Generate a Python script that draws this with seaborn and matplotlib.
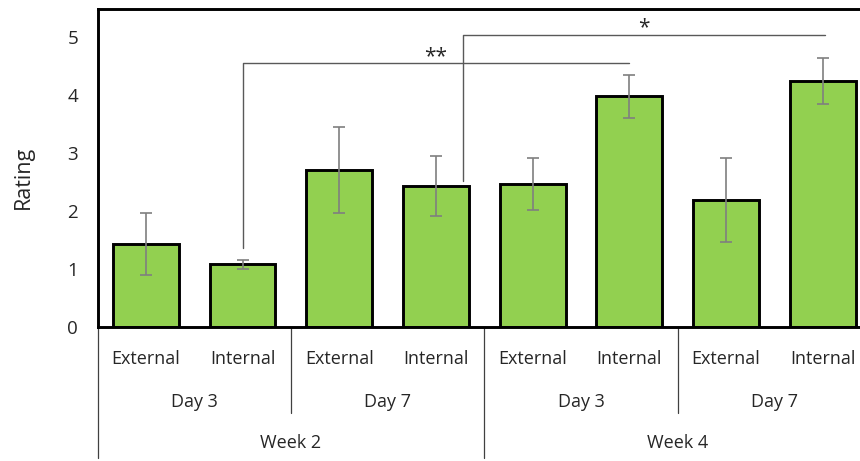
import matplotlib
matplotlib.use('Agg')
import matplotlib.pyplot as plt
import seaborn as sns
import pandas as pd

sites = ['External', 'Internal'] * 4
days = ['Day 3', 'Day 7']
weeks = ['Week 2', 'Week 4']
ratings = [1.43, 1.08, 2.71, 2.43, 2.47, 3.98, 2.19, 4.24]
errors = [0.53, 0.08, 0.74, 0.52, 0.45, 0.37, 0.72, 0.40]
# significance brackets: start bar, end bar, foot, height, label
brackets = [(1, 5, 1.36, 4.55, '**'), (3.28, 7.02, 2.52, 5.04, '*')]

sns.set_style('white')
plt.rcParams['font.family'] = ['Open Sans', 'DejaVu Sans']
text_color = '#262626'

keys = [f'{weeks[i // 4]} {days[(i // 2) % 2]} {sites[i]}' for i in range(len(ratings))]
df = pd.DataFrame({'key': keys, 'rating': ratings})

fig = plt.figure(figsize=(8.6, 4.61), dpi=100)
ax = fig.add_axes([0.1135, 0.2907, 0.8993, 0.6898])

sns.barplot(data=df, x='key', y='rating', color='#92D050', saturation=1,
            edgecolor='black', linewidth=2.1, width=0.68, ax=ax)
ax.errorbar(range(len(ratings)), ratings, yerr=errors, fmt='none',
            ecolor='#7f7f7f', elinewidth=1.2, capsize=4.5, capthick=1.2)

# significance brackets
for x0, x1, foot, h, label in brackets:
    ax.plot([x0, x0, x1], [foot, h, h], color='#595959', lw=1)
    ax.text((x0 + x1) / 2, h - 0.07, label, ha='center', va='bottom',
            fontsize=15, color=text_color)

ax.set_xlim(-0.5, 7.5)
ax.set_ylim(0, 5.48)
ax.set_yticks(range(6))
ax.set_xticks(range(len(sites)))
ax.set_xticklabels(sites)
ax.tick_params(axis='x', length=0, pad=16.5, labelsize=13, labelcolor=text_color)
ax.tick_params(axis='y', length=0, pad=14, labelsize=13.5, labelcolor=text_color)
ax.set_xlabel('')
ax.set_ylabel('')
ax.text(-0.0965, 0.47, 'Rating', transform=ax.transAxes, rotation=90,
        ha='center', va='center', fontsize=15.5, color=text_color)

for side in ['left', 'top', 'bottom']:
    ax.spines[side].set_color('black')
    ax.spines[side].set_linewidth(2.1)
ax.spines['right'].set_visible(False)

# hierarchical category labels below the axis
trans = ax.get_xaxis_transform()
for w, week in enumerate(weeks):
    ax.text(4 * w + 1.5, -0.364, week, transform=trans, ha='center', va='center',
            fontsize=13, color=text_color)
    for d, day in enumerate(days):
        ax.text(4 * w + 2 * d + 0.5, -0.236, day, transform=trans, ha='center',
                va='center', fontsize=13, color=text_color)
    ax.plot([4 * w - 0.5] * 2, [0, -0.412], transform=trans, color='#404040',
            lw=0.9, clip_on=False)
    ax.plot([4 * w + 1.5] * 2, [0, -0.270], transform=trans, color='#404040',
            lw=0.9, clip_on=False)

fig.savefig('out.png', dpi=100)
